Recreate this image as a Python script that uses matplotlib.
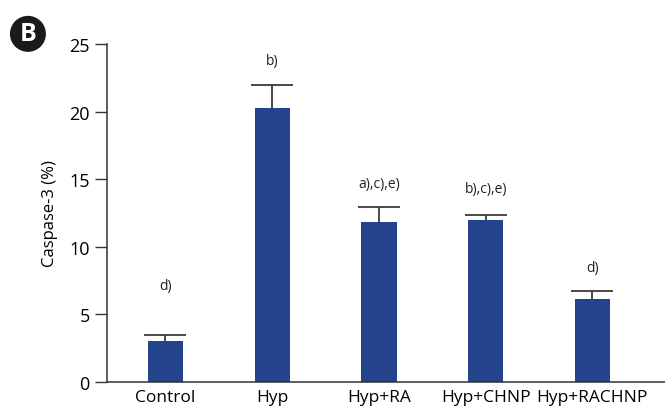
import numpy as np
import matplotlib.pyplot as plt

plt.rcParams['font.family'] = ['Open Sans', 'DejaVu Sans']

groups = ['Control', 'Hyp', 'Hyp+RA', 'Hyp+CHNP', 'Hyp+RACHNP']
caspase3 = [3.0, 20.3, 11.8, 12.0, 6.15]
sem = [0.5, 1.7, 1.15, 0.35, 0.55]
sig = ['d)', 'b)', 'a),c),e)', 'b),c),e)', 'd)']

fig = plt.figure(figsize=(6.65, 4.1), dpi=100)
ax = fig.add_axes([0.161, 0.066, 0.839, 0.824])

x = np.arange(len(groups))
ax.bar(x, caspase3, width=0.33, color='#23448a', zorder=2)
eb = ax.errorbar(x, caspase3, yerr=[np.zeros(len(sem)), sem], fmt='none',
                 ecolor='#3a3a3a', elinewidth=1.3, capsize=15, capthick=1.3, zorder=1)
eb[1][0].set_visible(False)  # no cap on the lower side

# significance letters above the error caps
pads = [3.1, 1.2, 1.2, 1.4, 1.2]
for xi, v, e, p, s in zip(x, caspase3, sem, pads, sig):
    ax.text(xi, v + e + p, s, ha='center', va='bottom', fontsize=10, color='#222222')

ax.set_xlim(-0.547, 4.68)
ax.set_ylim(0, 25)
ax.set_yticks([0, 5, 10, 15, 20, 25])
ax.set_xticks(x)
ax.set_xticklabels(groups, fontsize=12.5)
ax.tick_params(axis='x', length=0, pad=5)
ax.tick_params(axis='y', length=9, width=1, labelsize=13, direction='out', color='#333333')
ax.set_ylabel('Caspase-3 (%)', fontsize=12, labelpad=8)

for side in ['top', 'right']:
    ax.spines[side].set_visible(False)
for side in ['left', 'bottom']:
    ax.spines[side].set_linewidth(1.1)
    ax.spines[side].set_color('#333333')

fig.text(0.042, 0.915, 'B', fontsize=18, fontweight='bold', color='white',
         ha='center', va='center',
         bbox=dict(boxstyle='circle,pad=0.22', facecolor='#1a1a1a', edgecolor='none'))

plt.savefig('out.png', dpi=100)
plt.close()
